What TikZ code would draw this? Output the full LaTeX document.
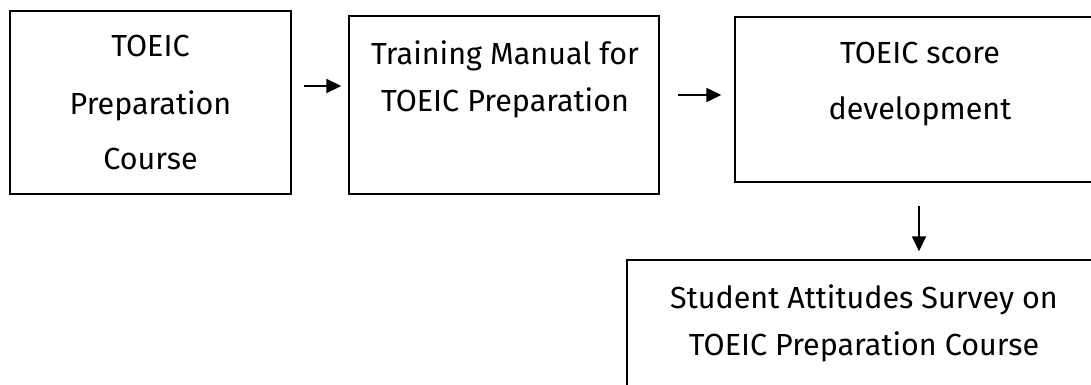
\documentclass[tikz,border=0pt]{standalone}
\usepackage{fontspec}
\newfontfamily\boxfont{Fira Sans}
\usetikzlibrary{arrows.meta}
\begin{document}
\begin{tikzpicture}[x=1pt,y=-1pt,
  box/.style={draw=black,line width=1.4pt,rectangle,inner sep=0pt},
  txt/.style={anchor=base,inner sep=0pt,font=\boxfont\fontsize{30.5}{36}\selectfont},
  arr/.style={line width=1.8pt,-{Triangle[length=15pt,width=14pt]}}]
\useasboundingbox (0,0) rectangle (1091,385);
\clip (0,0) rectangle (1091,385);
\fill[white] (0,0) rectangle (1091,385);
% boxes
\node[box,minimum width=281pt,minimum height=183pt] (b1) at (150.5,102.5) {};
\node[box,minimum width=310pt,minimum height=178pt] (b2) at (504,105) {};
\node[box,minimum width=370pt,minimum height=165pt] (b3) at (920,99.5) {};
\node[box,minimum width=474pt,minimum height=180pt] (b4) at (864,350) {};
% texts
\node[txt] (t11) at (150.5,57) {TOEIC};
\node[txt] (t12) at (150.5,114) {Preparation};
\node[txt] (t13) at (150.5,169) {Course};
\node[txt] (t21) at (505,65) {Training Manual for};
\node[txt] (t22) at (505,112) {TOEIC Preparation};
\node[txt] (t31) at (920,64) {TOEIC score};
\node[txt] (t32) at (920,120) {development};
\node[txt] (t41) at (864,308) {Student Attitudes Survey on};
\node[txt] (t42) at (864,355) {TOEIC Preparation Course};
% arrows
\coordinate (y1) at (0,86);
\coordinate (y2) at (0,95);
\coordinate (x3) at (919,0);
\draw[arr,shorten <=12pt,shorten >=7pt] (b1.east |- y1) -- (b2.west |- y1);
\draw[arr,shorten <=18pt,shorten >=13pt] (b2.east |- y2) -- (b3.west |- y2);
\draw[arr,shorten <=23pt,shorten >=8pt] (b3.south -| x3) -- (b4.north -| x3);
\end{tikzpicture}
\end{document}
